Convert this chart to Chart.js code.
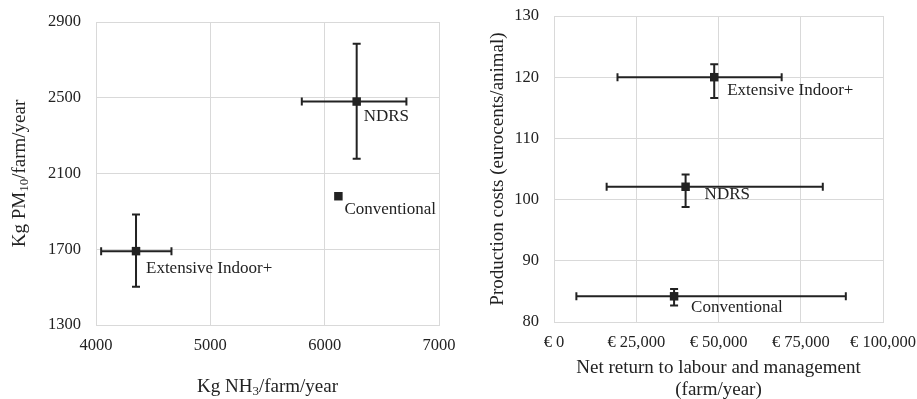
<!DOCTYPE html>
<html>
<head>
<meta charset="utf-8">
<script src="https://cdn.jsdelivr.net/npm/chart.js@4.4.1/dist/chart.umd.min.js"></script>
<style>
  html, body { margin: 0; padding: 0; background: #fff; }
  #wrap { display: flex; width: 917px; height: 399px; }
  .box { position: relative; height: 399px; }
</style>
</head>
<body>
<div id="wrap">
  <div class="box" style="width:460px"><canvas id="emissionChart"></canvas></div>
  <div class="box" style="width:457px"><canvas id="costChart"></canvas></div>
</div>
<script>
// Left panel: emissions per farm
const systemsA = ['NDRS', 'Conventional', 'Extensive Indoor+'];
const nh3 = [6280, 6120, 4350];
const nh3Low = [5800, null, 4045];
const nh3High = [6715, null, 4660];
const pm10 = [2480, 1980, 1690];
const pm10Low = [2178, null, 1502];
const pm10High = [2785, null, 1883];

// Right panel: economics
const systemsB = ['Extensive Indoor+', 'NDRS', 'Conventional'];
const netReturn = [48700, 40000, 36500];
const netLow = [19300, 16000, 6800];
const netHigh = [69200, 81700, 88700];
const prodCost = [120, 102.1, 84.2];
const costLow = [116.6, 98.8, 82.7];
const costHigh = [122.1, 104.1, 85.4];

const FONT = "'Liberation Serif', 'Times New Roman', serif";
const INK = '#222';
const GRID = '#d9d9d9';

function rows(names, xs, xl, xh, ys, yl, yh) {
    return names.map((n, i) => ({
        x: xs[i], y: ys[i], label: n,
        xLow: xl[i], xHigh: xh[i], yLow: yl[i], yHigh: yh[i]
    }));
}

// error bars + point labels, positioned through the chart scales
const errorBars = {
    id: 'errorBars',
    beforeDatasetsDraw(chart) {
        const { ctx, scales: { x, y } } = chart;
        const cap = 4;
        ctx.save();
        ctx.strokeStyle = INK;
        ctx.lineWidth = 2;
        chart.data.datasets[0].data.forEach(d => {
            const px = x.getPixelForValue(d.x), py = y.getPixelForValue(d.y);
            ctx.beginPath();
            if (d.xLow != null) {
                const a = x.getPixelForValue(d.xLow), b = x.getPixelForValue(d.xHigh);
                ctx.moveTo(a, py); ctx.lineTo(b, py);
                ctx.moveTo(a, py - cap); ctx.lineTo(a, py + cap);
                ctx.moveTo(b, py - cap); ctx.lineTo(b, py + cap);
            }
            if (d.yLow != null) {
                const a = y.getPixelForValue(d.yLow), b = y.getPixelForValue(d.yHigh);
                ctx.moveTo(px, a); ctx.lineTo(px, b);
                ctx.moveTo(px - cap, a); ctx.lineTo(px + cap, a);
                ctx.moveTo(px - cap, b); ctx.lineTo(px + cap, b);
            }
            ctx.stroke();
        });
        ctx.restore();
    },
    afterDatasetsDraw(chart, args, opts) {
        const { ctx, scales: { x, y } } = chart;
        ctx.save();
        ctx.fillStyle = INK;
        ctx.font = '17px ' + FONT;
        ctx.textAlign = 'left';
        ctx.textBaseline = 'middle';
        chart.data.datasets[0].data.forEach((d, i) => {
            const off = opts.offsets[i];
            ctx.fillText(d.label, x.getPixelForValue(d.x) + off[0], y.getPixelForValue(d.y) + off[1]);
        });
        ctx.restore();
    }
};

// axis titles, with subscripts
function drawRich(ctx, segs, cx, cy) {
    const big = '19px ' + FONT, small = '13px ' + FONT;
    let w = 0;
    segs.forEach(s => { ctx.font = s.sub ? small : big; w += ctx.measureText(s.t).width; });
    let cur = cx - w / 2;
    segs.forEach(s => {
        ctx.font = s.sub ? small : big;
        ctx.fillText(s.t, cur, cy + (s.sub ? 5 : 0));
        cur += ctx.measureText(s.t).width;
    });
}

const axisTitles = {
    id: 'axisTitles',
    afterDraw(chart, args, opts) {
        const { ctx, chartArea: ca } = chart;
        ctx.save();
        ctx.fillStyle = INK;
        ctx.textAlign = 'left';
        ctx.textBaseline = 'middle';
        const midX = (ca.left + ca.right) / 2, midY = (ca.top + ca.bottom) / 2;
        opts.x.forEach((line, i) => drawRich(ctx, line, midX, opts.xAt[i]));
        ctx.translate(opts.yAt, midY);
        ctx.rotate(-Math.PI / 2);
        drawRich(ctx, opts.y, 0, 0);
        ctx.restore();
    }
};

function axis(min, max, step, fit, pad, fmt) {
    return {
        type: 'linear', min: min, max: max,
        afterFit: fit,
        grid: { color: GRID, drawTicks: false },
        border: { color: GRID },
        ticks: { stepSize: step, padding: pad, color: INK, font: { family: FONT, size: 16.5 },
                 callback: fmt || (v => v) }
    };
}

// fixed box sizes so the plot areas sit where the original ones do
function fixX(h) {
    return s => { s.height = h; s.paddingLeft = 0; s.paddingRight = 0; };
}
function fixY(w) {
    return s => { s.width = w; s.paddingTop = 0; s.paddingBottom = 0; };
}

new Chart(document.getElementById('emissionChart'), {
    type: 'scatter',
    data: {
        datasets: [{
            data: rows(systemsA, nh3, nh3Low, nh3High, pm10, pm10Low, pm10High),
            pointStyle: 'rect', pointRadius: 6, backgroundColor: INK, borderWidth: 0
        }]
    },
    options: {
        responsive: true, maintainAspectRatio: false, animation: false,
        layout: { padding: { top: 22, right: 21, left: 0, bottom: 0 } },
        scales: {
            x: axis(4000, 7000, 1000, fixX(74), 11),
            y: axis(1300, 2900, 400, fixY(96), 15)
        },
        plugins: {
            legend: { display: false },
            tooltip: { enabled: false },
            errorBars: { offsets: [[7, 15], [6, 13], [10, 17]] },
            axisTitles: {
                x: [[{ t: 'Kg NH' }, { t: '3', sub: true }, { t: '/farm/year' }]],
                xAt: [387],
                y: [{ t: 'Kg PM' }, { t: '10', sub: true }, { t: '/farm/year' }],
                yAt: 20
            }
        }
    },
    plugins: [errorBars, axisTitles]
});

new Chart(document.getElementById('costChart'), {
    type: 'scatter',
    data: {
        datasets: [{
            data: rows(systemsB, netReturn, netLow, netHigh, prodCost, costLow, costHigh),
            pointStyle: 'rect', pointRadius: 6, backgroundColor: INK, borderWidth: 0
        }]
    },
    options: {
        responsive: true, maintainAspectRatio: false, animation: false,
        layout: { padding: { top: 16, right: 34, left: 0, bottom: 0 } },
        scales: {
            x: axis(0, 100000, 25000, fixX(77), 11,
                    v => '€ ' + v.toLocaleString('en-US')),
            y: axis(80, 130, 10, fixY(94), 15)
        },
        plugins: {
            legend: { display: false },
            tooltip: { enabled: false },
            errorBars: { offsets: [[13, 13], [19, 8], [17, 11]] },
            axisTitles: {
                x: [[{ t: 'Net return to labour and management' }], [{ t: '(farm/year)' }]],
                xAt: [368, 390],
                y: [{ t: 'Production costs (eurocents/animal)' }],
                yAt: 38
            }
        }
    },
    plugins: [errorBars, axisTitles]
});
</script>
</body>
</html>
